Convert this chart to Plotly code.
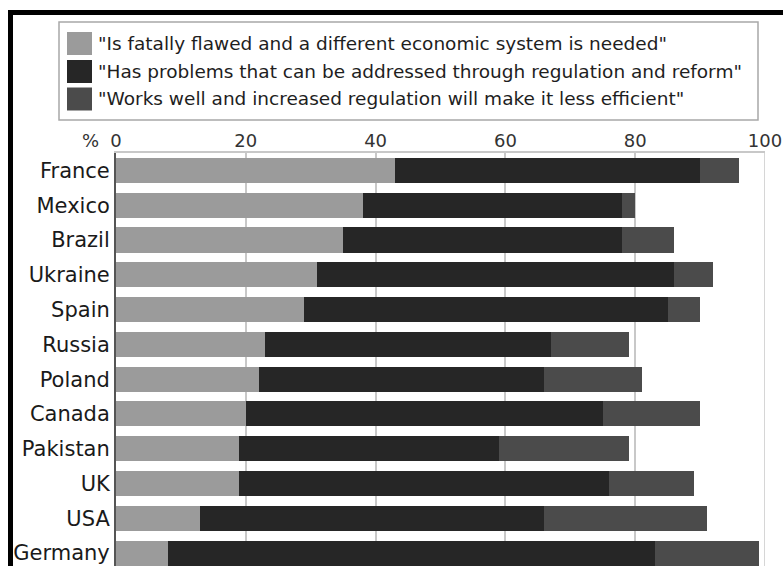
import plotly.graph_objects as go

countries = ["France", "Mexico", "Brazil", "Ukraine", "Spain", "Russia",
             "Poland", "Canada", "Pakistan", "UK", "USA", "Germany"]
fatally_flawed = [43, 38, 35, 31, 29, 23, 22, 20, 19, 19, 13, 8]
needs_regulation = [47, 40, 43, 55, 56, 44, 44, 55, 40, 57, 53, 75]
works_well = [6, 2, 8, 6, 5, 12, 15, 15, 20, 13, 25, 16]

series_names = [
    '"Is fatally flawed and a different economic system is needed"',
    '"Has problems that can be addressed through regulation and reform"',
    '"Works well and increased regulation will make it less efficient"',
]
series_colors = ["#9b9b9b", "#262626", "#4b4b4b"]
x_ticks = [0, 20, 40, 60, 80, 100]

W, H = 783, 566
L, R, T, B = 116, 765, 153, 566


def px(x):
    return (x - L) / (R - L)


def py(y):
    return (B - y) / (B - T)


fig = go.Figure()
for name, vals, col in zip(series_names, [fatally_flawed, needs_regulation, works_well], series_colors):
    fig.add_trace(go.Bar(
        y=countries, x=vals, name=name, orientation="h",
        marker=dict(color=col, line=dict(width=0)), showlegend=False,
    ))

shapes = []
# black frame (top and left)
shapes.append(dict(type="rect", xref="paper", yref="paper",
                   x0=px(10.5), x1=px(800), y0=py(12.5), y1=py(600),
                   line=dict(color="black", width=5), fillcolor="rgba(0,0,0,0)", layer="above"))
# legend box
shapes.append(dict(type="rect", xref="paper", yref="paper",
                   x0=px(59), x1=px(758), y0=py(120), y1=py(22),
                   line=dict(color="#a8a8a8", width=1.5), fillcolor="white"))
annotations = []
row_y = [43.5, 71.5, 99]
for name, col, yc in zip(series_names, series_colors, row_y):
    shapes.append(dict(type="rect", xref="paper", yref="paper",
                       x0=px(67), x1=px(92), y0=py(yc + 11.5), y1=py(yc - 11.5),
                       line=dict(width=0), fillcolor=col))
    annotations.append(dict(xref="paper", yref="paper", x=px(96), y=py(yc),
                            xanchor="left", yanchor="middle", text=name, showarrow=False,
                            font=dict(family="DejaVu Sans", size=18.5, color="#1e1e1e")))
# right border of plot
shapes.append(dict(type="line", xref="x", yref="paper", x0=100, x1=100, y0=0, y1=1,
                   line=dict(color="#c8c8c8", width=1.5), layer="below"))
annotations.append(dict(xref="paper", yref="paper", x=px(101), y=py(141),
                        xanchor="right", yanchor="middle", text="%", showarrow=False,
                        font=dict(family="DejaVu Sans", size=18, color="#333")))

fig.update_layout(
    width=W, height=H,
    margin=dict(l=L, r=W - R, t=T, b=H - B),
    barmode="stack", bargap=0.28,
    plot_bgcolor="white", paper_bgcolor="white",
    shapes=shapes, annotations=annotations,
    xaxis=dict(side="top", range=[0, 100], tickvals=x_ticks,
               ticktext=[str(v) for v in x_ticks],
               showgrid=True, gridcolor="#c8c8c8", gridwidth=1.5,
               zeroline=False, showline=True, linecolor="#c8c8c8", linewidth=1.5,
               ticks="", ticklabelstandoff=-3,
               tickfont=dict(family="DejaVu Sans", size=18, color="#333")),
    yaxis=dict(categoryorder="array", categoryarray=countries,
               range=[11.37, -0.5], showgrid=False, zeroline=False,
               showline=True, linecolor="#555", linewidth=2, ticks="",
               tickfont=dict(family="DejaVu Sans", size=21, color="#1a1a1a")),
)

fig.write_html("out.html")
